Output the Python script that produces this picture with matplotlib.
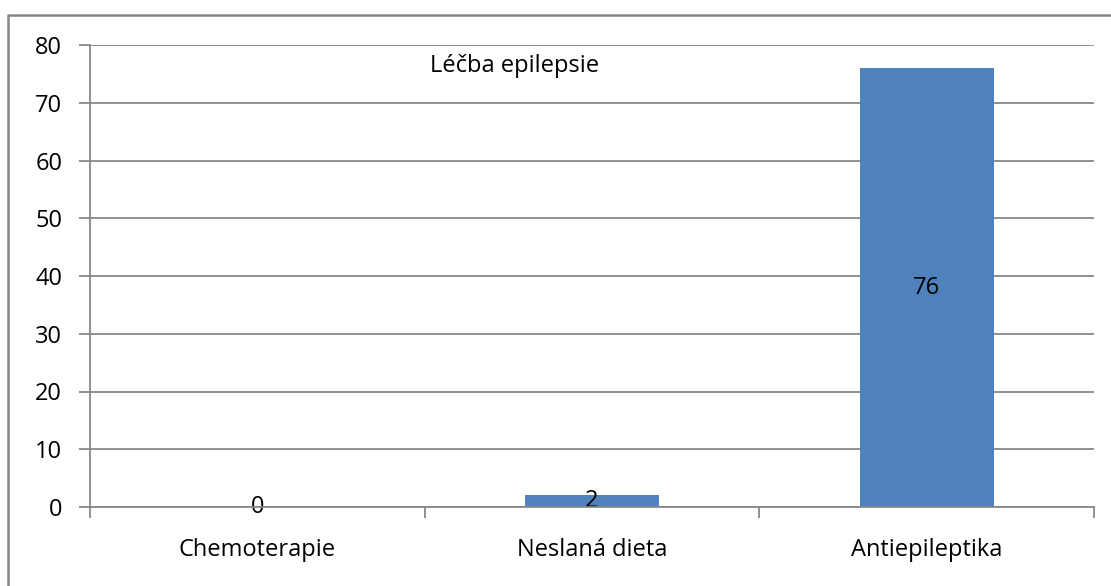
import matplotlib.pyplot as plt
from matplotlib.lines import Line2D

categories = ["Chemoterapie", "Neslaná dieta", "Antiepileptika"]
counts = [0, 2, 76]
title = "Léčba epilepsie"
y_ticks = [0, 10, 20, 30, 40, 50, 60, 70, 80]

BAR_COLOR = "#4F81BD"
AXIS_GRAY = "#888888"
FS = 17

plt.rcParams["font.family"] = ["Open Sans", "DejaVu Sans"]

fig = plt.figure(figsize=(11.11, 5.86), dpi=100)
ax = fig.add_axes([90 / 1111, 1 - 507 / 586, 1004 / 1111, 462 / 586])

x = list(range(len(categories)))
ax.bar(x, counts, width=0.4, color=BAR_COLOR, zorder=3)

# value labels centred in each bar
for xi, v in zip(x, counts):
    ax.text(xi, v / 2, str(v), ha="center", va="center", fontsize=FS, zorder=4)

ax.set_xlim(-0.5, len(categories) - 0.5)
ax.set_ylim(0, 80)
ax.set_yticks(y_ticks)
ax.yaxis.grid(True, color=AXIS_GRAY, linewidth=1.3, zorder=0)

ax.set_xticks(x)
ax.set_xticklabels(categories, fontsize=FS)
ax.tick_params(axis="x", which="major", length=0, pad=22)
ax.set_xticks([i - 0.5 for i in range(len(categories) + 1)], minor=True)
ax.tick_params(axis="x", which="minor", length=8, width=1.3, color=AXIS_GRAY)
ax.tick_params(axis="y", length=8, width=1.3, color=AXIS_GRAY, labelsize=FS, pad=12)

for side in ("top", "right"):
    ax.spines[side].set_visible(False)
for side in ("left", "bottom"):
    ax.spines[side].set_color(AXIS_GRAY)
    ax.spines[side].set_linewidth(1.3)
    ax.spines[side].set_zorder(5)

ax.text(515 / 1111, 1 - 66 / 586, title, transform=fig.transFigure,
        ha="center", va="center", fontsize=FS)

# outer chart frame
fl, ft = 8 / 1111, 1 - 15 / 586
fig.add_artist(Line2D([fl, fl, 1.0], [0.0, ft, ft], transform=fig.transFigure,
                      color=AXIS_GRAY, linewidth=1.8))

fig.savefig("out.png", dpi=100)
